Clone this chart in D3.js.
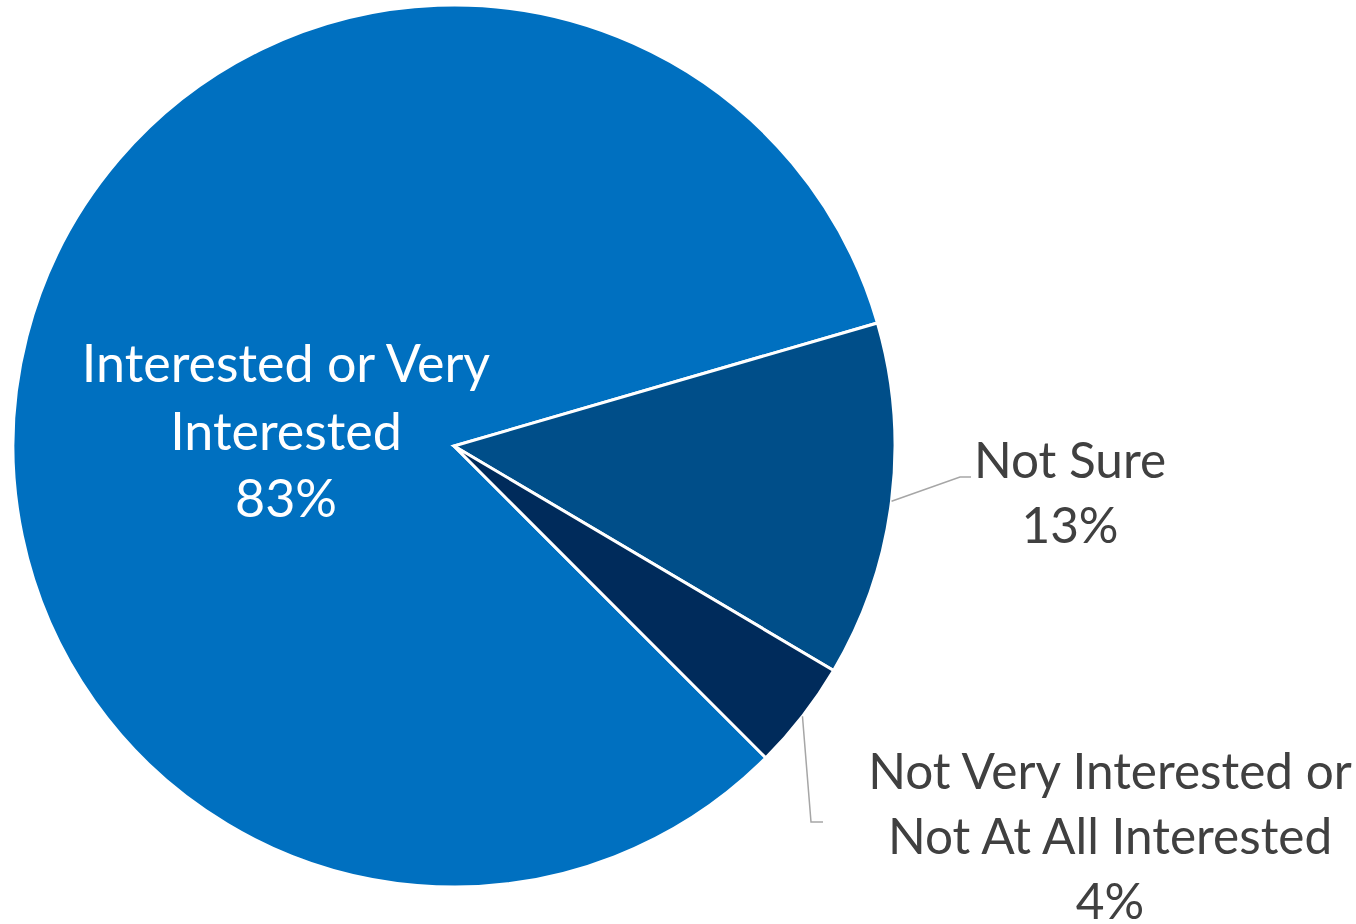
<!DOCTYPE html>
<html>
<head>
<meta charset="utf-8">
<script src="https://cdn.jsdelivr.net/npm/d3@7"></script>
<style>
  html, body { margin: 0; padding: 0; background: #ffffff; }
  svg { display: block; }
</style>
</head>
<body>
<svg id="chart" width="1356" height="924"></svg>
<script>
// Survey responses: level of interest
const categories = [
  ["Interested or Very", "Interested"],
  ["Not Sure"],
  ["Not Very Interested or", "Not At All Interested"]
];
const values = [83, 13, 4];
const percentLabels = ["83%", "13%", "4%"];
const colors = ["#0070C0", "#004E89", "#002B5B"];

const W = 1356, H = 924;
const cx = 454, cy = 446, R = 441;
const rotation = 135 * Math.PI / 180;

const svg = d3.select("#chart");
const g = svg.append("g").attr("transform", `translate(${cx},${cy})`);

const pie = d3.pie().sort(null).value(d => d)
  .startAngle(rotation).endAngle(rotation + 2 * Math.PI);
const arcs = pie(values);
const arc = d3.arc().innerRadius(0).outerRadius(R);

g.selectAll("path.slice")
  .data(arcs)
  .join("path")
  .attr("class", "slice")
  .attr("d", arc)
  .attr("fill", (d, i) => colors[i])
  .attr("stroke", "#ffffff")
  .attr("stroke-width", 3)
  .attr("stroke-linejoin", "miter");

// Label placement (text centre x, first baseline y) on the page
const labelLayout = [
  { x: 286, y: 382, inside: true, size: 52, lh: 67.5 },
  { x: 1070, y: 478, inside: false, size: 49.5, lh: 65, elbow: [960, 477], end: [971, 477] },
  { x: 1110, y: 789, inside: false, size: 49.5, lh: 65, elbow: [811, 822], end: [823, 822] }
];

const font = "Lato, 'Open Sans', sans-serif";

arcs.forEach((a, i) => {
  const L = labelLayout[i];
  const lines = categories[i].concat([percentLabels[i]]);
  const t = svg.append("text")
    .attr("text-anchor", "middle")
    .attr("font-family", font)
    .attr("font-size", L.size)
    .attr("fill", L.inside ? "#ffffff" : "#404040");
  lines.forEach((s, k) => {
    t.append("tspan").attr("x", L.x).attr("y", L.y + k * L.lh).text(s);
  });

  if (!L.inside) {
    // leader line from the slice's outer edge at its mid-angle
    const mid = (a.startAngle + a.endAngle) / 2;
    const sx = cx + R * Math.sin(mid), sy = cy - R * Math.cos(mid);
    svg.append("polyline")
      .attr("points", [[sx, sy], L.elbow, L.end].map(p => p.join(",")).join(" "))
      .attr("fill", "none")
      .attr("stroke", "#A6A6A6")
      .attr("stroke-width", 1.5);
  }
});
</script>
</body>
</html>
